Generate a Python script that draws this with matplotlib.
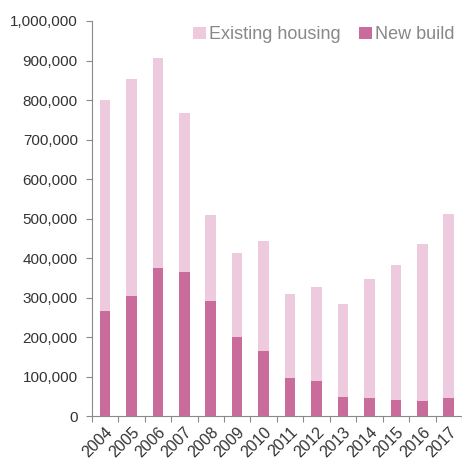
import numpy as np
import matplotlib
matplotlib.use("Agg")
from matplotlib import pyplot as plt
from matplotlib.ticker import FuncFormatter, FixedLocator

plt.rcParams['font.family'] = ['Liberation Sans', 'DejaVu Sans']

years = ["2004", "2005", "2006", "2007", "2008", "2009", "2010",
         "2011", "2012", "2013", "2014", "2015", "2016", "2017"]
total = [801000, 853000, 906000, 767000, 509000, 413000, 444000,
         309000, 327000, 285000, 347000, 382000, 436000, 512000]
new_build = [266000, 305000, 376000, 364000, 291000, 200000, 165000,
             97000, 89000, 49000, 46000, 41000, 39000, 46000]
existing = [t - n for t, n in zip(total, new_build)]

light = "#EDCADD"
dark = "#C96C9C"
axis_grey = "#8a8a8a"

fig = plt.figure(figsize=(4.62, 4.65), dpi=100)
ax = fig.add_axes([91.7 / 462, 48.7 / 465, 1 - 91.7 / 462, (416.3 - 21) / 465])

x = np.arange(len(years))
ax.bar(x, new_build, width=0.4, color=dark, label="New build")
ax.bar(x, existing, width=0.4, bottom=new_build, color=light, label="Existing housing")

ax.set_xlim(-0.5, len(years) - 0.5)
ax.set_ylim(0, 1000000)
ax.set_yticks(np.arange(0, 1000001, 100000))
ax.yaxis.set_major_formatter(FuncFormatter(lambda v, p: f"{int(v):,}"))

# ticks on category edges, labels at centres
ax.xaxis.set_major_locator(FixedLocator(np.arange(-0.5, len(years), 1.0)))
ax.xaxis.set_major_formatter(FuncFormatter(lambda v, p: ""))
ax.xaxis.set_minor_locator(FixedLocator(x))
ax.set_xticklabels(years, minor=True, rotation=45, ha="right", rotation_mode="anchor")
ax.tick_params(axis="x", which="minor", length=0, pad=6, labelsize=11.5, labelcolor="#333333")
ax.tick_params(axis="x", which="major", length=4, color=axis_grey)
ax.tick_params(axis="y", length=4, color=axis_grey, labelsize=11, labelcolor="#333333", pad=6)

for side in ["top", "right"]:
    ax.spines[side].set_visible(False)
for side in ["left", "bottom"]:
    ax.spines[side].set_color(axis_grey)

handles, labels = ax.get_legend_handles_labels()
leg = ax.legend(handles[::-1], labels[::-1], loc="upper right", ncol=2, frameon=False,
                fontsize=13, handlelength=0.7, handleheight=0.7, handletextpad=0.2,
                columnspacing=1.0, borderaxespad=0.0, bbox_to_anchor=(1.0, 1.005))
for t in leg.get_texts():
    t.set_color("#888888")

fig.savefig("out.png", dpi=100)
